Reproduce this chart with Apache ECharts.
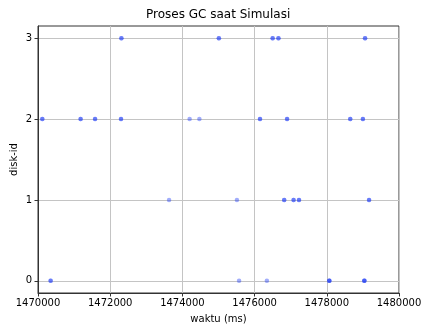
<!DOCTYPE html>
<html>
<head>
<meta charset="utf-8">
<script src="https://cdn.jsdelivr.net/npm/echarts@6/dist/echarts.min.js"></script>
<style>html,body{margin:0;padding:0;background:#fff}#c{width:423px;height:326px}</style>
</head>
<body>
<div id="c"></div>
<script>
// Chart values (times in ms per disk-id); repeated times are overlapping GC events
const diskIds = [0, 1, 2, 3];
const disk0Times = [1470350, 1470350, 1475570, 1476340, 1478070, 1478070, 1478070, 1479040, 1479040, 1479040];
const disk1Times = [1473630, 1475510, 1476820, 1476820, 1477080, 1477080, 1477230, 1477230, 1479170, 1479170];
const disk2Times = [1470120, 1470120, 1471180, 1471180, 1471580, 1471580, 1472300, 1472300, 1474200, 1474470, 1476150, 1476150, 1476900, 1476900, 1478650, 1478650, 1479000, 1479000];
const disk3Times = [1472310, 1472310, 1475010, 1475010, 1476500, 1476500, 1476660, 1476660, 1479060, 1479060];
const xTicks = [1470000, 1472000, 1474000, 1476000, 1478000, 1480000];
const yTicks = [0, 1, 2, 3];

const allTimes = [disk0Times, disk1Times, disk2Times, disk3Times];
const points = [];
diskIds.forEach((d, i) => allTimes[i].forEach(t => points.push([t, d])));

const font = 'DejaVu Sans';
const chart = echarts.init(document.getElementById('c'), null, {renderer: 'canvas'});
chart.setOption({
  animation: false,
  backgroundColor: '#fff',
  title: {
    text: 'Proses GC saat Simulasi',
    left: 146, top: 9, padding: 0,
    textStyle: {fontFamily: font, fontSize: 12, fontWeight: 'normal', color: '#000'}
  },
  grid: {left: 38, right: 24, top: 26, bottom: 33, containLabel: false, outerBoundsMode: 'none',
    show: true, borderColor: '#333', borderWidth: 1, backgroundColor: 'transparent'},
  xAxis: {
    type: 'value', min: xTicks[0], max: xTicks[xTicks.length - 1], interval: 2000,
    name: 'waktu (ms)', nameLocation: 'middle', nameGap: 21, nameMoveOverlap: false,
    nameTextStyle: {fontFamily: font, fontSize: 10, color: '#000'},
    axisLine: {show: true, onZero: false, lineStyle: {color: '#333', width: 1}},
    axisTick: {show: true, length: 3.5, lineStyle: {color: '#333'}},
    axisLabel: {fontFamily: font, fontSize: 10, color: '#000', margin: 5, showMinLabel: true, showMaxLabel: true, hideOverlap: false,
      formatter: v => String(v)},
    splitLine: {show: true, lineStyle: {color: '#c4c4c4', width: 1}}
  },
  yAxis: {
    type: 'value', min: -0.15, max: 3.15,
    name: 'disk-id', nameLocation: 'middle', nameGap: 19, nameMoveOverlap: false,
    nameTextStyle: {fontFamily: font, fontSize: 10, color: '#000'},
    axisLine: {show: true, onZero: false, lineStyle: {color: '#333', width: 1}},
    axisTick: {show: true, length: 3.5, lineStyle: {color: '#333'}, customValues: yTicks},
    axisLabel: {fontFamily: font, fontSize: 10, color: '#000', margin: 6, customValues: yTicks},
    splitLine: {show: false}
  },
  series: [
    {
      type: 'scatter', data: points, symbolSize: 4.5,
      itemStyle: {color: 'rgba(20,50,245,0.5)'},
      markLine: {
        silent: true, symbol: 'none', label: {show: false},
        lineStyle: {color: '#c4c4c4', width: 1, type: 'solid'},
        data: yTicks.map(v => ({yAxis: v})),
        z: 0
      },
      z: 3
    }
  ]
});
</script>
</body>
</html>
